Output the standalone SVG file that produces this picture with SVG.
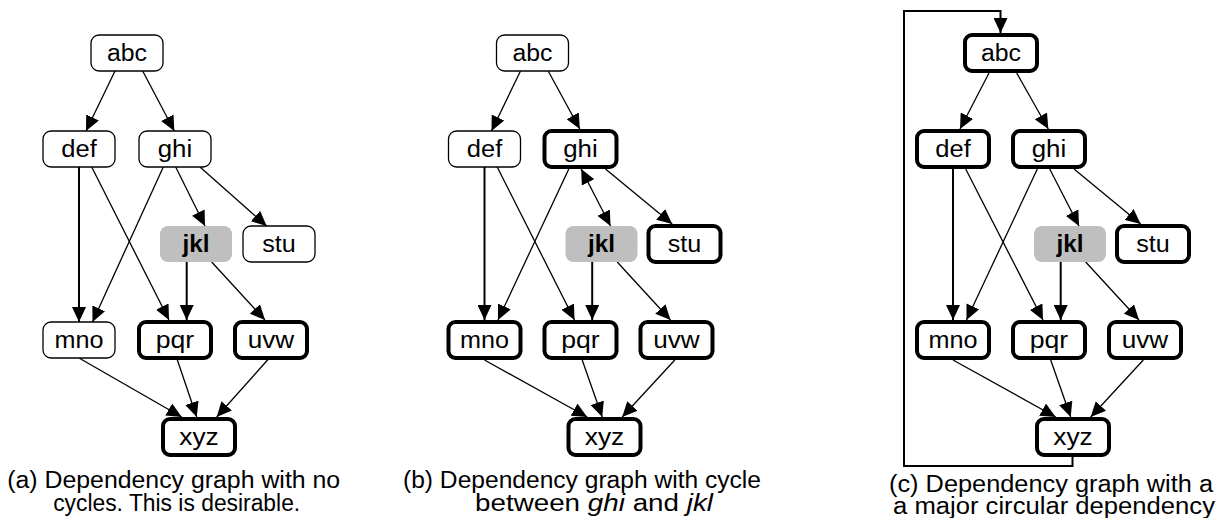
<svg xmlns="http://www.w3.org/2000/svg" width="1225" height="518" viewBox="0 0 1225 518">
<style>
text{font-family:"Liberation Sans",Arial,sans-serif;fill:#000}
.lbl{font-size:23px;text-anchor:middle}
.cap{font-size:23px;text-anchor:middle}
.n{fill:#fff;stroke:#000;stroke-width:1.3}
.t{fill:#fff;stroke:#000;stroke-width:4}
.g{fill:#bfbfbf;stroke:none}
.e{fill:none;stroke:#000;stroke-width:1.3;marker-end:url(#arr)}
.b{fill:none;stroke:#000;stroke-width:2;marker-end:url(#arr)}
</style>
<defs>
<marker id="arr" markerUnits="userSpaceOnUse" viewBox="0 0 15 14" markerWidth="15" markerHeight="14" refX="15" refY="7" orient="auto-start-reverse">
<path d="M0,0 L15,7 L0,14 Z" fill="#000"/>
</marker>
</defs>
<rect width="1225" height="518" fill="#fff"/>

<g id="connectors">
<!-- panel a -->
<line class="e" x1="115" y1="71" x2="86" y2="131"/>
<line class="e" x1="142.7" y1="71" x2="174.3" y2="131"/>
<line class="b" x1="79" y1="167" x2="79" y2="322"/>
<line class="e" x1="91.7" y1="167" x2="169" y2="320"/>
<line class="e" x1="163.3" y1="167" x2="92.5" y2="322"/>
<line class="e" x1="175.7" y1="167" x2="205" y2="226"/>
<line class="e" x1="200" y1="167" x2="266.7" y2="226"/>
<line class="b" x1="186.7" y1="262" x2="186.7" y2="320"/>
<line class="e" x1="211.7" y1="262" x2="265" y2="320"/>
<line class="e" x1="79" y1="358" x2="181.7" y2="417"/>
<line class="e" x1="176.7" y1="358" x2="196.7" y2="417"/>
<line class="e" x1="269.3" y1="358" x2="216.7" y2="417"/>
<!-- panel b -->
<line class="e" x1="520.5" y1="71" x2="491.5" y2="131"/>
<line class="e" x1="548.2" y1="71" x2="579.8" y2="129"/>
<line class="b" x1="484.5" y1="167" x2="484.5" y2="320"/>
<line class="e" x1="497.2" y1="167" x2="574.5" y2="320"/>
<line class="e" x1="568.8" y1="169" x2="498" y2="320"/>
<line class="e" x1="581.2" y1="169" x2="610.5" y2="226" style="marker-start:url(#arr)"/>
<line class="e" x1="605.5" y1="169" x2="672.2" y2="224"/>
<line class="b" x1="592.2" y1="262" x2="592.2" y2="320"/>
<line class="e" x1="617.2" y1="262" x2="670.5" y2="320"/>
<line class="e" x1="484.5" y1="360" x2="587.2" y2="417"/>
<line class="e" x1="582.2" y1="360" x2="602.2" y2="417"/>
<line class="e" x1="674.8" y1="360" x2="622.2" y2="417"/>
<!-- panel c -->
<line class="e" x1="989" y1="73" x2="960" y2="129"/>
<line class="e" x1="1016.7" y1="73" x2="1048.3" y2="129"/>
<line class="b" x1="953" y1="169" x2="953" y2="320"/>
<line class="e" x1="965.7" y1="169" x2="1043" y2="320"/>
<line class="e" x1="1037.3" y1="169" x2="966.5" y2="320"/>
<line class="e" x1="1049.7" y1="169" x2="1079" y2="226"/>
<line class="e" x1="1074" y1="169" x2="1140.7" y2="224"/>
<line class="b" x1="1060.7" y1="262" x2="1060.7" y2="320"/>
<line class="e" x1="1085.7" y1="262" x2="1139" y2="320"/>
<line class="e" x1="953" y1="360" x2="1055.7" y2="417"/>
<line class="e" x1="1050.7" y1="360" x2="1070.7" y2="417"/>
<line class="e" x1="1143.3" y1="360" x2="1090.7" y2="417"/>
<path class="b" d="M1072.5,457 V466 H904 V11 H1000.5 V33"/>
</g>

<!-- panel a nodes -->
<g id="a-abc"><rect class="n" x="91" y="35" width="72" height="36" rx="8"/><text class="lbl" x="127" y="61" textLength="40" lengthAdjust="spacingAndGlyphs">abc</text></g>
<g id="a-def"><rect class="n" x="43" y="131" width="72" height="36" rx="8"/><text class="lbl" x="79" y="157" textLength="35.5" lengthAdjust="spacingAndGlyphs">def</text></g>
<g id="a-ghi"><rect class="n" x="139" y="131" width="72" height="36" rx="8"/><text class="lbl" x="175" y="157" textLength="34.5" lengthAdjust="spacingAndGlyphs">ghi</text></g>
<g id="a-jkl"><rect class="g" x="160" y="226" width="72" height="36" rx="8"/><text class="lbl" x="196" y="252" font-weight="bold" textLength="27" lengthAdjust="spacingAndGlyphs">jkl</text></g>
<g id="a-stu"><rect class="n" x="243" y="226" width="72" height="36" rx="8"/><text class="lbl" x="279" y="252" textLength="33.5" lengthAdjust="spacingAndGlyphs">stu</text></g>
<g id="a-mno"><rect class="n" x="43" y="322" width="72" height="36" rx="8"/><text class="lbl" x="79" y="348" textLength="49" lengthAdjust="spacingAndGlyphs">mno</text></g>
<g id="a-pqr"><rect class="t" x="139" y="322" width="72" height="36" rx="7"/><text class="lbl" x="175" y="348" textLength="38.5" lengthAdjust="spacingAndGlyphs">pqr</text></g>
<g id="a-uvw"><rect class="t" x="235" y="322" width="72" height="36" rx="7"/><text class="lbl" x="271" y="348" textLength="46.5" lengthAdjust="spacingAndGlyphs">uvw</text></g>
<g id="a-xyz"><rect class="t" x="163" y="419" width="72" height="36" rx="7"/><text class="lbl" x="199" y="445" textLength="39.5" lengthAdjust="spacingAndGlyphs">xyz</text></g>

<!-- panel b nodes -->
<g id="b-abc"><rect class="n" x="496.5" y="35" width="72" height="36" rx="8"/><text class="lbl" x="532.5" y="61" textLength="40" lengthAdjust="spacingAndGlyphs">abc</text></g>
<g id="b-def"><rect class="n" x="448.5" y="131" width="72" height="36" rx="8"/><text class="lbl" x="484.5" y="157" textLength="35.5" lengthAdjust="spacingAndGlyphs">def</text></g>
<g id="b-ghi"><rect class="t" x="544.5" y="131" width="72" height="36" rx="7"/><text class="lbl" x="580.5" y="157" textLength="34.5" lengthAdjust="spacingAndGlyphs">ghi</text></g>
<g id="b-jkl"><rect class="g" x="565.5" y="226" width="72" height="36" rx="8"/><text class="lbl" x="601.5" y="252" font-weight="bold" textLength="27" lengthAdjust="spacingAndGlyphs">jkl</text></g>
<g id="b-stu"><rect class="t" x="648.5" y="226" width="72" height="36" rx="7"/><text class="lbl" x="684.5" y="252" textLength="33.5" lengthAdjust="spacingAndGlyphs">stu</text></g>
<g id="b-mno"><rect class="t" x="448.5" y="322" width="72" height="36" rx="7"/><text class="lbl" x="484.5" y="348" textLength="49" lengthAdjust="spacingAndGlyphs">mno</text></g>
<g id="b-pqr"><rect class="t" x="544.5" y="322" width="72" height="36" rx="7"/><text class="lbl" x="580.5" y="348" textLength="38.5" lengthAdjust="spacingAndGlyphs">pqr</text></g>
<g id="b-uvw"><rect class="t" x="640.5" y="322" width="72" height="36" rx="7"/><text class="lbl" x="676.5" y="348" textLength="46.5" lengthAdjust="spacingAndGlyphs">uvw</text></g>
<g id="b-xyz"><rect class="t" x="568.5" y="419" width="72" height="36" rx="7"/><text class="lbl" x="604.5" y="445" textLength="39.5" lengthAdjust="spacingAndGlyphs">xyz</text></g>

<!-- panel c nodes -->
<g id="c-abc"><rect class="t" x="965" y="35" width="72" height="36" rx="7"/><text class="lbl" x="1001" y="61" textLength="40" lengthAdjust="spacingAndGlyphs">abc</text></g>
<g id="c-def"><rect class="t" x="917" y="131" width="72" height="36" rx="7"/><text class="lbl" x="953" y="157" textLength="35.5" lengthAdjust="spacingAndGlyphs">def</text></g>
<g id="c-ghi"><rect class="t" x="1013" y="131" width="72" height="36" rx="7"/><text class="lbl" x="1049" y="157" textLength="34.5" lengthAdjust="spacingAndGlyphs">ghi</text></g>
<g id="c-jkl"><rect class="g" x="1034" y="226" width="72" height="36" rx="8"/><text class="lbl" x="1070" y="252" font-weight="bold" textLength="27" lengthAdjust="spacingAndGlyphs">jkl</text></g>
<g id="c-stu"><rect class="t" x="1117" y="226" width="72" height="36" rx="7"/><text class="lbl" x="1153" y="252" textLength="33.5" lengthAdjust="spacingAndGlyphs">stu</text></g>
<g id="c-mno"><rect class="t" x="917" y="322" width="72" height="36" rx="7"/><text class="lbl" x="953" y="348" textLength="49" lengthAdjust="spacingAndGlyphs">mno</text></g>
<g id="c-pqr"><rect class="t" x="1013" y="322" width="72" height="36" rx="7"/><text class="lbl" x="1049" y="348" textLength="38.5" lengthAdjust="spacingAndGlyphs">pqr</text></g>
<g id="c-uvw"><rect class="t" x="1109" y="322" width="72" height="36" rx="7"/><text class="lbl" x="1145" y="348" textLength="46.5" lengthAdjust="spacingAndGlyphs">uvw</text></g>
<g id="c-xyz"><rect class="t" x="1037" y="419" width="72" height="36" rx="7"/><text class="lbl" x="1073" y="445" textLength="39.5" lengthAdjust="spacingAndGlyphs">xyz</text></g>

<g id="captions">
<text class="cap" x="173.7" y="488" textLength="333" lengthAdjust="spacingAndGlyphs">(a) Dependency graph with no</text>
<text class="cap" x="176.7" y="511" textLength="247" lengthAdjust="spacingAndGlyphs">cycles. This is desirable.</text>
<text class="cap" x="582" y="488" textLength="358" lengthAdjust="spacingAndGlyphs">(b) Dependency graph with cycle</text>
<text class="cap" x="594" y="511" textLength="238" lengthAdjust="spacingAndGlyphs">between <tspan font-style="italic">ghi</tspan> and <tspan font-style="italic">jkl</tspan></text>
<text class="cap" x="1051" y="492" textLength="324" lengthAdjust="spacingAndGlyphs">(c) Dependency graph with a</text>
<text class="cap" x="1054" y="514" textLength="322" lengthAdjust="spacingAndGlyphs">a major circular dependency</text>
</g>
</svg>
